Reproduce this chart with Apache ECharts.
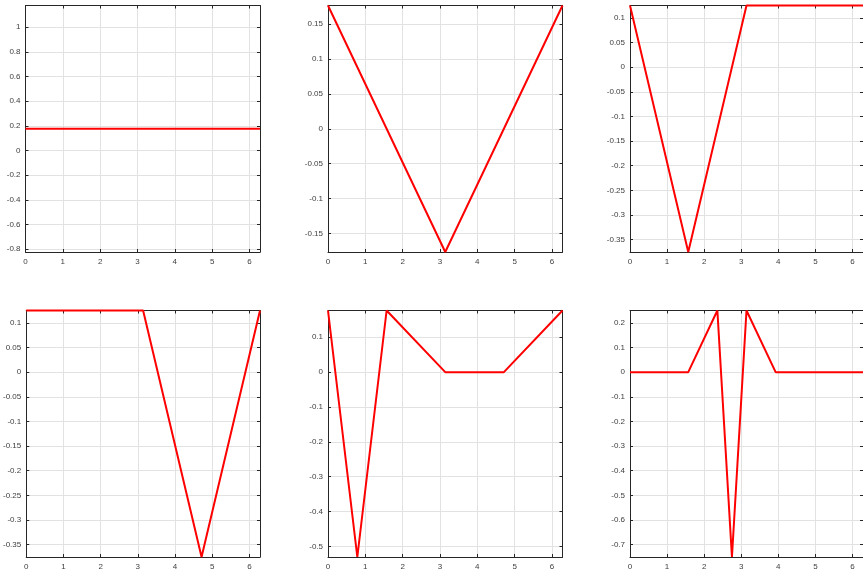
<!DOCTYPE html>
<html>
<head>
<meta charset="utf-8">
<script src="https://cdn.jsdelivr.net/npm/echarts@6/dist/echarts.min.js"></script>
<style>
html,body{margin:0;padding:0;background:#fff;}
#chart{width:863px;height:574px;}
</style>
</head>
<body>
<div id="chart"></div>
<script>
// ---- data ----
const xTicks = [0, 1, 2, 3, 4, 5, 6];
const xMax = 6.2832;

const x1 = [0, 6.2832];
const y1 = [0.1768, 0.1768];
const x2 = [0, 3.1416, 6.2832];
const y2 = [0.1768, -0.1768, 0.1768];
const x3 = [0, 1.5708, 3.1416, 6.2832];
const y3 = [0.125, -0.375, 0.125, 0.125];
const x4 = [0, 3.1416, 4.7124, 6.2832];
const y4 = [0.125, 0.125, -0.375, 0.125];
const x5 = [0, 0.7854, 1.5708, 3.1416, 4.7124, 6.2832];
const y5 = [0.1768, -0.5303, 0.1768, 0, 0, 0.1768];
const x6 = [0, 1.5708, 2.3562, 2.7489, 3.1416, 3.9270, 6.2832];
const y6 = [0, 0, 0.25, -0.75, 0.25, 0, 0];

const yRange1 = [-0.8232, 1.1768];
const yRange2 = [-0.1768, 0.1768];
const yRange3 = [-0.375, 0.125];
const yRange4 = [-0.375, 0.125];
const yRange5 = [-0.5303, 0.1768];
const yRange6 = [-0.75, 0.25];

const yTicks1 = [-0.8, -0.6, -0.4, -0.2, 0, 0.2, 0.4, 0.6, 0.8, 1];
const yTicks2 = [-0.15, -0.1, -0.05, 0, 0.05, 0.1, 0.15];
const yTicks3 = [-0.35, -0.3, -0.25, -0.2, -0.15, -0.1, -0.05, 0, 0.05, 0.1];
const yTicks4 = [-0.35, -0.3, -0.25, -0.2, -0.15, -0.1, -0.05, 0, 0.05, 0.1];
const yTicks5 = [-0.5, -0.4, -0.3, -0.2, -0.1, 0, 0.1];
const yTicks6 = [-0.7, -0.6, -0.5, -0.4, -0.3, -0.2, -0.1, 0, 0.1, 0.2];

// ---- layout ----
const panels = [
  {xs: x1, ys: y1, yr: yRange1, yt: yTicks1, left: 25.5, top: 5.5},
  {xs: x2, ys: y2, yr: yRange2, yt: yTicks2, left: 328, top: 5.5},
  {xs: x3, ys: y3, yr: yRange3, yt: yTicks3, left: 630, top: 5.5},
  {xs: x4, ys: y4, yr: yRange4, yt: yTicks4, left: 25.5, top: 310.5},
  {xs: x5, ys: y5, yr: yRange5, yt: yTicks5, left: 328, top: 310.5},
  {xs: x6, ys: y6, yr: yRange6, yt: yTicks6, left: 630, top: 310.5}
];
const W = 234.5, H = 246.5;
const FONT = "'Liberation Sans', Arial, sans-serif";
const axisCol = '#262626';
const gridCol = '#e2e2e2';

const grid = [], xAxis = [], yAxis = [], series = [];
panels.forEach((p, i) => {
  grid.push({left: p.left, top: p.top, width: W, height: H, containLabel: false});
  const common = {
    type: 'value',
    gridIndex: i,
    axisLine: {show: true, onZero: false, lineStyle: {color: axisCol, width: 1}},
    axisTick: {show: true, inside: true, length: 3, lineStyle: {color: axisCol}}
  };
  // bottom x axis
  xAxis.push(Object.assign({}, common, {
    position: 'bottom', min: 0, max: xMax,
    axisTick: {show: true, inside: true, length: 3, lineStyle: {color: axisCol}, customValues: xTicks},
    axisLabel: {show: true, customValues: xTicks, color: '#404040', fontSize: 8, fontFamily: FONT, margin: 6,
      formatter: v => String(v)},
    splitLine: {show: true, lineStyle: {color: gridCol, width: 1}}
  }));
  // top x axis (box)
  xAxis.push(Object.assign({}, common, {
    position: 'top', min: 0, max: xMax,
    axisTick: {show: true, inside: true, length: 3, lineStyle: {color: axisCol}, customValues: xTicks},
    axisLabel: {show: false},
    splitLine: {show: false}
  }));
  // left y axis
  yAxis.push(Object.assign({}, common, {
    position: 'left', min: p.yr[0], max: p.yr[1],
    axisTick: {show: true, inside: true, length: 3, lineStyle: {color: axisCol}, customValues: p.yt},
    axisLabel: {show: true, customValues: p.yt, color: '#404040', fontSize: 8, fontFamily: FONT, margin: 5,
      formatter: v => String(+v.toFixed(3))},
    splitLine: {show: true, lineStyle: {color: gridCol, width: 1}}
  }));
  // right y axis (box)
  yAxis.push(Object.assign({}, common, {
    position: 'right', min: p.yr[0], max: p.yr[1],
    axisTick: {show: true, inside: true, length: 3, lineStyle: {color: axisCol}, customValues: p.yt},
    axisLabel: {show: false},
    splitLine: {show: false}
  }));
  series.push({
    type: 'line',
    xAxisIndex: 2 * i,
    yAxisIndex: 2 * i,
    data: p.xs.map((x, k) => [x, p.ys[k]]),
    showSymbol: false,
    symbol: 'none',
    clip: false,
    lineStyle: {color: '#ff0000', width: 2},
    z: 5,
    animation: false
  });
});

const chart = echarts.init(document.getElementById('chart'), null, {renderer: 'canvas'});
chart.setOption({
  animation: false,
  backgroundColor: '#ffffff',
  grid, xAxis, yAxis, series
});
</script>
</body>
</html>
